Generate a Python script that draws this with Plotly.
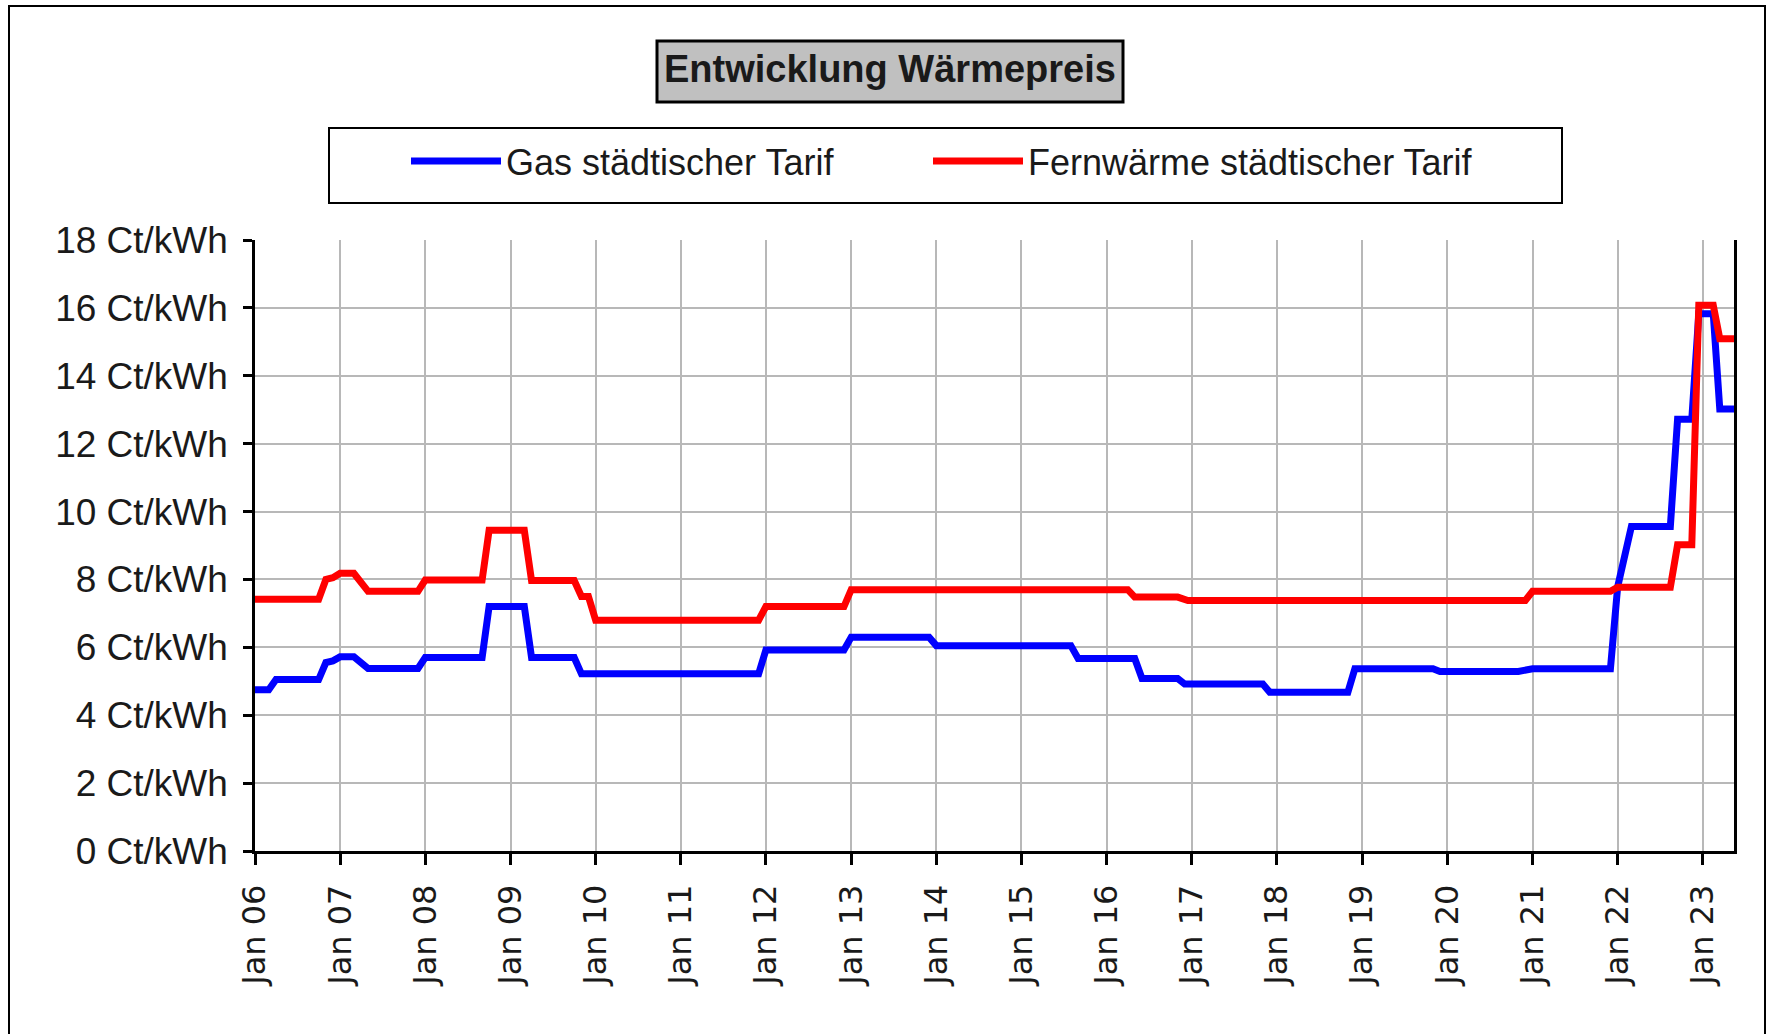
import plotly.graph_objects as go

# ---------------- data ----------------
gas_dates = [
    "2006-01-01", "2006-03-01", "2006-04-01", "2006-10-01", "2006-11-01", "2006-12-01",
    "2007-01-01", "2007-03-01", "2007-05-01", "2007-12-01", "2008-01-01", "2008-09-01",
    "2008-10-01", "2009-03-01", "2009-04-01", "2009-10-01", "2009-11-01", "2011-12-01",
    "2012-01-01", "2012-12-01", "2013-01-01", "2013-12-01", "2014-01-01", "2015-08-01",
    "2015-09-01", "2016-05-01", "2016-06-01", "2016-11-01", "2016-12-01", "2017-11-01",
    "2017-12-01", "2018-11-01", "2018-12-01", "2019-11-01", "2019-12-01", "2020-11-01",
    "2021-01-01", "2021-12-01", "2022-01-01", "2022-03-01", "2022-08-15", "2022-09-15",
    "2022-11-15", "2022-12-15", "2023-02-15", "2023-03-15", "2023-05-15",
]
gas_values = [
    4.75, 4.75, 5.05, 5.05, 5.55, 5.60,
    5.72, 5.72, 5.38, 5.38, 5.70, 5.70,
    7.20, 7.20, 5.70, 5.70, 5.22, 5.22,
    5.92, 5.92, 6.30, 6.30, 6.05, 6.05,
    5.67, 5.67, 5.08, 5.08, 4.92, 4.92,
    4.68, 4.68, 5.37, 5.37, 5.29, 5.29,
    5.37, 5.37, 7.78, 9.56, 9.56, 12.72,
    12.72, 15.83, 15.83, 13.02, 13.02,
]

fw_dates = [
    "2006-01-01", "2006-10-01", "2006-11-01", "2006-12-01", "2007-01-01", "2007-03-01",
    "2007-05-01", "2007-12-01", "2008-01-01", "2008-09-01", "2008-10-01", "2009-03-01",
    "2009-04-01", "2009-10-01", "2009-11-01", "2009-12-01", "2010-01-01", "2011-12-01",
    "2012-01-01", "2012-12-01", "2013-01-01", "2016-04-01", "2016-05-01", "2016-11-01",
    "2016-12-15", "2020-12-01", "2021-01-01", "2021-12-01", "2022-01-01", "2022-08-15",
    "2022-09-15", "2022-11-15", "2022-12-15", "2023-02-15", "2023-03-15", "2023-05-15",
]
fw_values = [
    7.42, 7.42, 8.00, 8.05, 8.18, 8.18,
    7.65, 7.65, 7.98, 7.98, 9.45, 9.45,
    7.97, 7.97, 7.50, 7.50, 6.80, 6.80,
    7.20, 7.20, 7.70, 7.70, 7.48, 7.48,
    7.38, 7.38, 7.65, 7.65, 7.77, 7.77,
    9.02, 9.02, 16.08, 16.08, 15.09, 15.09,
]

series_names = ["Gas städtischer Tarif", "Fernwärme städtischer Tarif"]
chart_title = "Entwicklung Wärmepreis"

x_tick_dates = [
    "2006-01-01", "2007-01-01", "2008-01-01", "2009-01-01", "2010-01-01", "2011-01-01",
    "2012-01-01", "2013-01-01", "2014-01-01", "2015-01-01", "2016-01-01", "2017-01-01",
    "2018-01-01", "2019-01-01", "2020-01-01", "2021-01-01", "2022-01-01", "2023-01-01",
]
x_tick_labels = [
    "Jan 06", "Jan 07", "Jan 08", "Jan 09", "Jan 10", "Jan 11",
    "Jan 12", "Jan 13", "Jan 14", "Jan 15", "Jan 16", "Jan 17",
    "Jan 18", "Jan 19", "Jan 20", "Jan 21", "Jan 22", "Jan 23",
]
y_tick_values = [0, 2, 4, 6, 8, 10, 12, 14, 16, 18]
y_tick_labels = ["0 Ct/kWh", "2 Ct/kWh", "4 Ct/kWh", "6 Ct/kWh", "8 Ct/kWh",
                 "10 Ct/kWh", "12 Ct/kWh", "14 Ct/kWh", "16 Ct/kWh", "18 Ct/kWh"]

# ---------------- layout geometry (pixels) ----------------
W, H = 1772, 1034
PL, PR, PT, PB = 255, 1734, 240, 851

def fx(p):
    return (p - PL) / (PR - PL)

def fy(p):
    return (PB - p) / (PB - PT)

SANS = "Liberation Sans, Arial, sans-serif"
WIDE = "DejaVu Sans, Verdana, sans-serif"
TXT = "#1a1a1a"

fig = go.Figure()
fig.add_trace(go.Scatter(x=gas_dates, y=gas_values, mode="lines", name=series_names[0],
                         line=dict(color="#0000ff", width=7), legend="legend"))
fig.add_trace(go.Scatter(x=fw_dates, y=fw_values, mode="lines", name=series_names[1],
                         line=dict(color="#ff0000", width=7), legend="legend2"))

shapes = [
    # outer frame (left, top, right)
    dict(type="path", xref="paper", yref="paper",
         path=f"M {fx(9)},{fy(1060)} L {fx(9)},{fy(6)} L {fx(1765)},{fy(6)} L {fx(1765)},{fy(1060)}",
         line=dict(color="black", width=2)),
    # title box
    dict(type="rect", xref="paper", yref="paper",
         x0=fx(657), x1=fx(1123), y0=fy(102), y1=fy(41),
         fillcolor="#c0c0c0", line=dict(color="black", width=3)),
    # legend box
    dict(type="rect", xref="paper", yref="paper",
         x0=fx(329), x1=fx(1562), y0=fy(203), y1=fy(128),
         fillcolor="white", line=dict(color="black", width=2)),
]

legend_common = dict(
    orientation="h", xanchor="left", yanchor="middle", y=fy(161),
    bgcolor="rgba(0,0,0,0)", borderwidth=0,
    font=dict(family=SANS, size=36, color=TXT),
    itemwidth=90, itemclick=False, itemdoubleclick=False,
)

fig.update_layout(
    width=W, height=H,
    margin=dict(l=PL, r=W - PR, t=PT, b=H - PB, pad=0),
    paper_bgcolor="white", plot_bgcolor="white",
    shapes=shapes,
    annotations=[dict(
        text=f"<b>{chart_title}</b>", xref="paper", yref="paper",
        x=fx(890), y=fy(69), xanchor="center", yanchor="middle", showarrow=False,
        font=dict(family=SANS, size=38, color=TXT),
    )],
    showlegend=True,
    legend=dict(x=fx(406), **legend_common),
    legend2=dict(x=fx(928), **legend_common),
    xaxis=dict(
        type="date", range=["2006-01-01", "2023-05-15"],
        tickmode="array", tickvals=x_tick_dates, ticktext=x_tick_labels,
        tickangle=-90, ticks="outside", ticklen=11, tickwidth=2.5, tickcolor="black",
        showline=True, linecolor="black", linewidth=2.5,
        showgrid=True, gridcolor="#b8b8b8", gridwidth=2, zeroline=False,
        tickfont=dict(family=WIDE, size=32, color=TXT),
        ticklabelstandoff=7,
    ),
    yaxis=dict(
        range=[0, 18], tickmode="array", tickvals=y_tick_values, ticktext=y_tick_labels,
        ticks="outside", ticklen=9, tickwidth=2.5, tickcolor="black",
        showline=True, linecolor="black", linewidth=2.5, mirror=True,
        showgrid=True, gridcolor="#b8b8b8", gridwidth=2, zeroline=False,
        tickfont=dict(family=SANS, size=37, color=TXT),
        ticklabelstandoff=8,
    ),
)

fig.write_html("out.html", config={"displayModeBar": False},
               post_script="document.body.style.margin='0';")
